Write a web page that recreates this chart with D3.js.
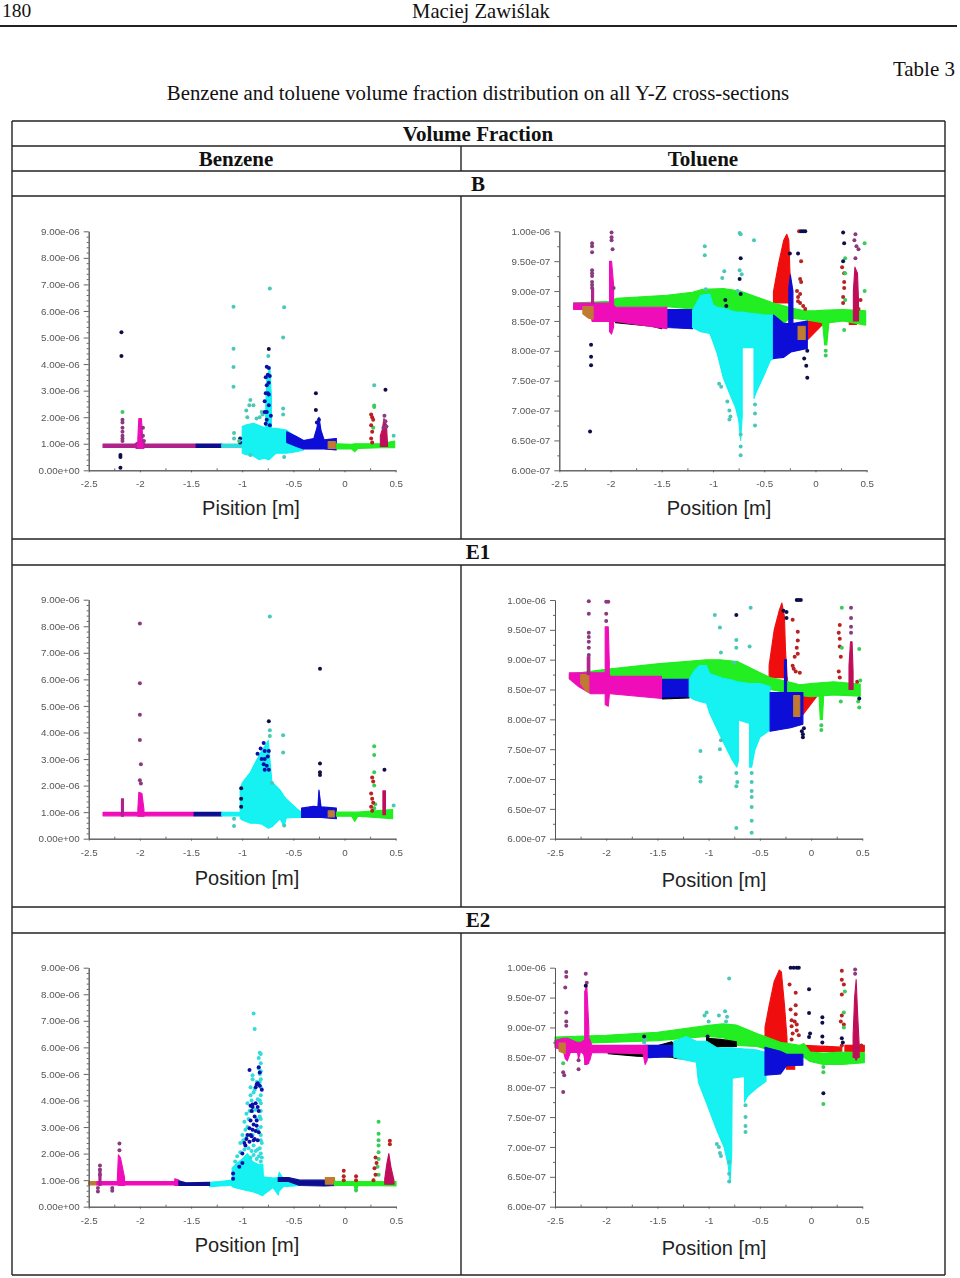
<!DOCTYPE html>
<html><head><meta charset="utf-8">
<script src="https://cdnjs.cloudflare.com/ajax/libs/d3/7.8.5/d3.min.js"></script>
<style>html,body{margin:0;padding:0;background:#fff}svg{display:block}</style></head><body>
<svg id="c" width="960" height="1278"></svg>
<script>
// ---------- axis values (benzene in 1e-6, toluene in 1e-7) ----------
const xTicks=[-2.5,-2,-1.5,-1,-0.5,0,0.5];
const xMinor=[-2.25,-1.75,-1.25,-0.75,-0.25,0.25];
const benzeneTicks=[0,1,2,3,4,5,6,7,8,9];
const benzeneLabels=["0.00e+00","1.00e-06","2.00e-06","3.00e-06","4.00e-06","5.00e-06","6.00e-06","7.00e-06","8.00e-06","9.00e-06"];
const benzeneMinor=[0.2,0.4,0.6,0.8,1.2,1.4,1.6,1.8,2.2,2.4,2.6,2.8,3.2,3.4,3.6,3.8,4.2,4.4,4.6,4.8,5.2,5.4,5.6,5.8,6.2,6.4,6.6,6.8,7.2,7.4,7.6,7.8,8.2,8.4,8.6,8.8];
const tolueneTicks=[6,6.5,7,7.5,8,8.5,9,9.5,10];
const tolueneLabels=["6.00e-07","6.50e-07","7.00e-07","7.50e-07","8.00e-07","8.50e-07","9.00e-07","9.50e-07","1.00e-06"];
const tolueneMinor=[6.25,6.75,7.25,7.75,8.25,8.75,9.25,9.75];

// ---------- B, benzene: regions are [x, low, high] ----------
const bBenMagenta=[[-2.36,0.86,0.99],[-2.05,0.86,0.99],[-2.03,0.82,1.05],[-1.97,0.82,1.05],[-1.95,0.86,0.99],[-1.45,0.86,0.99]];
const bBenPink=[[-2.02,0.85,1.2],[-2.01,0.82,1.95],[-1.985,0.82,1.95],[-1.97,0.85,1.1]];
const bBenNavy=[[-1.45,0.86,0.99],[-1.2,0.86,0.99]];
const bBenThinCyan=[[-1.2,0.86,0.99],[-1.0,0.86,0.99]];
const bBenCyan=[[-1.0,0.64,1.65],[-0.97,0.6,1.7],[-0.89,0.54,1.77],[-0.84,0.41,1.7],[-0.78,0.45,1.6],[-0.74,0.39,1.58],[-0.67,0.64,1.58],[-0.57,0.64,1.52],[-0.47,0.7,1.25],[-0.4,0.77,1.0]];
const bBenCyanSpike=[[-0.77,1.5,2.4],[-0.76,1.5,3.4],[-0.73,1.5,3.9],[-0.715,1.5,2.8]];
const bBenBlue=[[-0.565,1.05,1.45],[-0.47,0.9,1.27],[-0.4,0.8,1.12],[-0.3,0.8,1.2],[-0.27,0.8,1.6],[-0.25,0.8,2.0],[-0.23,0.8,1.5],[-0.2,0.8,1.15],[-0.08,0.77,1.2]];
const bBenGreen=[[-0.08,0.8,1.0],[0.07,0.8,0.98],[0.1,0.7,1.0],[0.13,0.82,1.0],[0.35,0.85,1.0],[0.49,0.85,1.1]];
const bBenBrown=[[-0.16,0.82,1.08],[-0.09,0.82,1.08]];
const bBenCrimson=[[0.35,0.9,1.3],[0.37,0.9,1.55],[0.385,0.9,1.95],[0.41,0.9,1.7],[0.42,0.9,1.0]];
const bBenTeal=[[-1.085,6.16],[-1.085,4.58],[-1.085,3.89],[-1.085,3.15],[-0.73,6.85],[-0.59,6.14],[-0.6,5.0],[-0.745,4.3],[-0.92,2.65],[-0.93,2.45],[-0.96,2.25],[-0.89,2.45],[-0.95,2.0],[-0.6,2.33],[-0.6,2.1],[0.29,3.2],[0.48,1.3],[-1.08,1.4],[-1.08,1.2],[-0.92,0.58],[-0.59,0.5],[-0.83,2.0],[-0.81,2.2],[-0.8,2.1],[-0.86,1.95]];
const bBenDark=[[-2.18,5.2],[-2.18,4.3],[-2.19,0.1],[-2.19,0.58],[-2.19,0.5],[-0.74,4.57],[-0.28,2.9],[-0.28,2.27],[0.4,3.03]];
const bBenGreenDots=[[-2.17,2.2],[0.29,2.44],[0.29,2.38],[-1.03,1.1],[0.28,1.6]];
const bBenRedDots=[[0.26,2.1],[0.27,2.0],[0.26,1.7],[0.27,1.45],[0.26,1.2],[0.27,1.05],[0.28,1.9]];
const bBenSpikeDots=[[-2.17,1.9],[-2.17,1.8],[-2.17,1.6],[-2.17,1.45],[-2.17,1.3],[-2.17,1.2],[-2.17,1.1],[-1.97,1.6],[-1.97,1.3],[-1.96,1.1],[0.39,2.05],[0.4,1.85],[0.41,1.65],[0.38,1.6]];
const bBenNavyDots=[[-0.78,2.6],[-0.75,2.9],[-0.76,3.2],[-0.73,3.55],[-0.77,3.5],[-0.74,3.85],[-0.74,2.45],[-0.77,1.75],[-0.73,1.7],[-1.02,1.2],[-1.02,1.05],[-0.25,1.9],[-0.27,1.8],[-0.76,3.9],[-0.75,3.6],[-0.74,3.3],[-0.77,2.9],[-0.74,2.85],[-0.76,2.2],[-0.72,2.05],[-0.78,2.2],[-0.76,1.9]];

// ---------- B, toluene ----------
const bTolGreen=[[-2.36,8.72,8.8],[-2.0,8.72,8.83],[-1.94,8.74,8.88],[-1.45,8.74,8.93],[-1.2,8.7,8.98],[-1.1,8.7,9.03],[-0.9,8.62,9.04],[-0.735,8.6,9.0],[-0.41,8.5,8.8],[-0.3,8.47,8.75],[-0.25,8.55,8.72],[-0.1,8.52,8.67],[0,8.49,8.67],[0.1,8.46,8.68],[0.27,8.5,8.69],[0.49,8.43,8.67]];
const bTolBlack=[[-1.95,8.47,8.52],[-1.6,8.41,8.5],[-1.5,8.37,8.5]];
const bTolBlue=[[-1.45,8.39,8.69],[-1.2,8.37,8.69]];
const bTolMagenta=[[-2.36,8.69,8.8],[-2.2,8.69,8.8],[-2.18,8.49,8.8],[-2.0,8.49,8.8],[-1.95,8.49,8.73],[-1.45,8.37,8.73]];
const bTolBrownLeft=[[-2.27,8.62,8.74],[-2.22,8.55,8.74],[-2.17,8.53,8.74]];
const bTolCyan=[[-1.2,8.39,8.68],[-1.12,8.32,8.93],[-1.03,8.29,8.95],[-1.0,8.15,8.77],[-0.96,7.96,8.73],[-0.9,7.55,8.71],[-0.83,7.25,8.68],[-0.78,7.05,8.65],[-0.75,6.85,8.65],[-0.73,6.5,8.65],[-0.715,6.9,8.65],[-0.715,8.05,8.65],[-0.6,8.05,8.62],[-0.6,7.2,8.62],[-0.58,7.3,8.62],[-0.5,7.6,8.6],[-0.44,7.84,8.6],[-0.4,7.87,8.6]];
const bTolBlueRight=[[-0.41,7.87,8.6],[-0.31,7.89,8.46],[-0.24,7.98,8.45],[-0.08,8.04,8.5]];
const bTolBlueSpike=[[-0.26,8.45,9.05],[-0.245,8.45,9.27],[-0.22,8.45,9.0]];
const bTolRed=[[-0.41,8.8,8.99],[-0.36,8.8,9.46],[-0.31,8.8,9.85],[-0.28,8.8,9.95],[-0.26,8.8,9.85],[-0.25,8.8,9.35],[-0.23,8.8,8.8]];
const bTolRedLow=[[-0.08,8.18,8.49],[0.08,8.46,8.49]];
const bTolRedStrip=[[0.33,8.44,8.55],[0.4,8.44,8.55]];
const bTolBrown=[[-0.17,8.19,8.41],[-0.1,8.19,8.41]];
const bTolGreenSpike=[[0.07,8.45,8.5],[0.09,8.1,8.5],[0.11,8.1,8.5],[0.13,8.45,8.5]];
const bTolPinkSpike=[[-2.01,8.32,9.5],[-1.99,8.28,9.5],[-1.97,8.4,9.1]];
const bTolLeftSpike=[[-2.185,8.8,9.05],[-2.165,8.8,9.05]];
const bTolCrimson=[[0.37,8.5,9.0],[0.385,8.5,9.4],[0.41,8.5,9.3],[0.42,8.5,8.85]];
const bTolPurple=[[-2.18,9.8],[-2.18,9.75],[-2.18,9.65],[-2.18,9.35],[-2.18,9.3],[-2.18,9.25],[-2.18,9.15],[-2.18,9.1],[-2.18,9.05],[-1.99,9.98],[-1.99,9.9],[-1.99,9.85],[-1.98,9.7],[-1.97,9.05],[0.39,9.95],[0.38,9.85],[0.4,9.75],[0.42,9.7],[0.39,9.55]];
const bTolDark=[[-2.19,8.1],[-2.19,7.9],[-2.19,7.76],[-2.2,6.65],[-0.73,9.55],[-0.74,9.2],[-0.73,8.95],[-0.08,8.0],[-0.09,7.75],[-0.08,7.55],[-0.11,7.87],[-0.25,9.63],[-0.17,9.63],[0.27,9.98],[0.28,9.8],[0.27,9.5],[-0.12,10],[-0.1,10],[-0.14,10],[-0.88,8.85],[-0.87,8.75]];
const bTolTeal=[[-1.08,9.75],[-1.08,9.6],[-0.74,9.97],[-0.73,9.95],[-0.6,9.85],[-0.89,9.33],[-0.91,9.22],[-0.74,9.35],[-0.72,9.28],[-0.76,9.0],[-0.94,7.45],[-0.92,7.4],[-0.86,7.15],[-0.84,7.0],[-0.84,6.85],[-0.83,6.9],[-0.59,6.95],[-0.59,7.1],[-0.59,6.75],[-0.73,6.25],[-1.07,9.03],[-0.73,6.4],[-0.73,6.6]];
const bTolRedDots=[[-0.14,9.5],[-0.15,9.2],[-0.14,9.15],[-0.18,9.0],[-0.15,8.95],[-0.17,8.9],[-0.15,8.8],[-0.12,8.75],[-0.17,8.83],[-0.1,8.7],[-0.16,10],[0.26,9.4],[0.28,9.3],[0.28,9.15],[0.28,9.05],[0.27,8.9],[0.27,8.8],[0.44,8.85],[0.42,8.7]];
const bTolGreenDots=[[0.1,8.0],[0.1,7.92],[0.28,8.35],[0.29,9.55],[0.29,9.3],[0.48,9.8],[0.48,9.0],[0.29,8.85]];

// ---------- E1, benzene ----------
const e1BenMagenta=[[-2.36,0.86,0.99],[-1.47,0.86,0.99]];
const e1BenPink=[[-2.02,0.85,1.1],[-2.01,0.85,1.75],[-1.98,0.85,1.7],[-1.96,0.85,1.1]];
const e1BenLeftSpike=[[-2.18,0.85,1.5],[-2.16,0.85,1.5]];
const e1BenNavy=[[-1.47,0.86,0.99],[-1.2,0.86,0.99]];
const e1BenCyan=[[-1.2,0.86,0.99],[-1.02,0.86,0.99],[-1.02,0.77,1.85],[-1.0,0.7,2.1],[-0.92,0.58,2.5],[-0.86,0.58,2.95],[-0.81,0.55,3.3],[-0.745,0.39,3.7],[-0.71,0.45,2.15],[-0.63,0.75,1.83],[-0.59,0.45,1.6],[-0.57,0.78,1.5],[-0.47,0.8,1.14],[-0.4,0.8,0.93]];
const e1BenBlue=[[-0.42,0.8,1.15],[-0.3,0.8,1.22],[-0.26,0.8,1.2],[-0.25,0.8,1.83],[-0.23,0.8,1.2],[-0.08,0.75,1.15]];
const e1BenGreen=[[-0.08,0.85,1.0],[0.07,0.85,1.0],[0.1,0.65,1.0],[0.13,0.85,1.0],[0.47,0.75,1.1]];
const e1BenBrown=[[-0.16,0.82,1.05],[-0.1,0.82,1.05]];
const e1BenCrimson=[[0.375,0.9,1.8],[0.4,0.9,1.8]];
const e1BenTeal=[[-0.73,8.37],[-0.73,4.08],[-0.73,3.87],[-0.6,3.9],[-0.6,3.25],[-1.08,0.48],[-1.08,0.75],[-0.59,0.5],[0.48,1.25],[-0.71,2.1]];
const e1BenPurple=[[-2.0,8.1],[-2.0,5.85],[-2.0,4.67],[-2.0,3.72],[-1.99,2.8],[-2.0,2.2],[-1.99,2.08]];
const e1BenDark=[[-0.24,6.4],[-0.74,4.42],[-0.24,2.83],[0.39,2.6],[-0.24,2.5],[-0.24,2.4],[-1.01,1.9],[-1.01,1.5],[-1.01,1.2]];
const e1BenNavyDots=[[-0.82,3.4],[-0.79,3.6],[-0.78,3.3],[-0.74,3.3],[-0.81,3.0],[-0.78,3.0],[-0.75,3.1],[-0.79,2.8],[-0.76,2.75],[-0.78,2.6],[-0.74,2.6],[-0.85,3.2]];
const e1BenGreenDots=[[0.29,3.48],[0.29,3.15],[0.29,2.5],[0.29,2.0],[0.3,1.3],[0.29,1.15]];
const e1BenRedDots=[[0.27,2.3],[0.28,2.15],[0.26,1.7],[0.27,1.5],[0.28,1.35],[0.26,1.2],[0.27,1.05]];

// ---------- E1, toluene ----------
const e1TolGreen=[[-2.36,8.68,8.76],[-2.0,8.7,8.84],[-1.5,8.68,8.93],[-1.02,8.67,9.0],[-0.89,8.62,9.0],[-0.72,8.6,8.97],[-0.4,8.5,8.7],[-0.27,8.46,8.65],[-0.11,8.4,8.58],[0,8.38,8.6],[0.22,8.41,8.63],[0.48,8.39,8.59]];
const e1TolBlack=[[-1.98,8.46,8.51],[-1.6,8.42,8.5],[-1.47,8.38,8.5],[-1.45,8.34,8.5],[-1.19,8.36,8.5]];
const e1TolBlue=[[-1.45,8.37,8.67],[-1.19,8.38,8.67]];
const e1TolMagenta=[[-2.36,8.68,8.78],[-2.27,8.55,8.78],[-2.15,8.43,8.78],[-1.98,8.43,8.78],[-1.96,8.43,8.72],[-1.46,8.35,8.72]];
const e1TolBrownLeft=[[-2.25,8.6,8.75],[-2.2,8.48,8.75],[-2.17,8.45,8.75]];
const e1TolCyan=[[-1.19,8.38,8.67],[-1.14,8.33,8.82],[-1.09,8.3,8.9],[-1.02,8.27,8.9],[-0.99,8.1,8.77],[-0.86,7.63,8.69],[-0.77,7.32,8.66],[-0.725,7.2,8.63],[-0.71,7.3,8.63],[-0.71,7.99,8.63],[-0.6,7.93,8.6],[-0.6,7.2,8.6],[-0.58,7.2,8.6],[-0.55,7.48,8.6],[-0.5,7.7,8.6],[-0.4,7.82,8.55]];
const e1TolBlueRight=[[-0.4,7.8,8.45],[-0.2,7.86,8.45],[-0.08,7.92,8.45]];
const e1TolBlueSpike=[[-0.26,8.4,9.0],[-0.24,8.4,9.0]];
const e1TolRed=[[-0.41,8.7,8.9],[-0.36,8.7,9.5],[-0.31,8.7,9.83],[-0.285,8.7,9.95],[-0.26,8.7,9.72],[-0.25,8.7,9.16],[-0.23,8.7,8.6]];
const e1TolRedLow=[[-0.08,8.08,8.4],[0.05,8.37,8.4]];
const e1TolRedStrip=[[0.33,8.42,8.5],[0.38,8.42,8.5]];
const e1TolBrown=[[-0.17,8.05,8.4],[-0.11,8.05,8.4]];
const e1TolGreenSpike=[[0.08,8.3,8.4],[0.09,8.0,8.4],[0.11,8.0,8.4],[0.12,8.3,8.4]];
const e1TolPinkSpike=[[-2.01,8.25,9.55],[-1.98,8.22,9.55],[-1.97,8.4,8.95]];
const e1TolLeftSpike=[[-2.185,8.75,9.05],[-2.16,8.75,9.05]];
const e1TolCrimson=[[0.37,8.5,8.9],[0.385,8.5,9.3],[0.4,8.5,9.3],[0.41,8.5,8.8]];
const e1TolPurple=[[-2.17,9.98],[-2.17,9.77],[-2.17,9.45],[-2.17,9.38],[-2.17,9.3],[-2.17,9.2],[-2.17,9.08],[-2.0,9.97],[-1.98,9.97],[-2.0,9.77],[-2.0,9.65],[0.39,9.87],[0.39,9.7],[0.39,9.55],[0.39,9.45]];
const e1TolDark=[[-0.73,9.75],[-0.27,9.82],[-0.24,9.8],[-0.24,9.7],[-0.07,7.85],[-0.08,7.75],[-0.09,7.8],[-0.08,7.7],[-0.12,10],[-0.1,10],[-0.14,10],[0.47,8.35]];
const e1TolTeal=[[-0.94,9.75],[-0.89,9.54],[-0.88,9.12],[-0.73,9.33],[-0.73,9.2],[-0.59,9.87],[-0.6,9.22],[-0.75,8.95],[-0.88,7.65],[-0.89,7.5],[-1.08,7.47],[-1.08,7.03],[-1.08,6.96],[-0.73,7.1],[-0.72,6.95],[-0.73,6.88],[-0.58,7.1],[-0.58,6.95],[-0.58,6.8],[-0.58,6.7],[-0.58,6.53],[-0.58,6.3],[-0.58,6.1],[-0.73,6.18]];
const e1TolRedDots=[[-0.18,9.67],[-0.13,9.47],[-0.13,9.32],[-0.14,9.2],[-0.13,9.1],[-0.16,9.05],[-0.17,8.85],[-0.15,8.8],[-0.11,8.78],[-0.18,8.9],[0.28,9.58],[0.27,9.45],[0.28,9.35],[0.28,9.22],[0.29,9.05],[0.27,8.8],[0.28,8.7],[0.45,8.63]];
const e1TolGreenDots=[[0.1,7.9],[0.1,7.82],[0.3,9.87],[0.3,9.2],[0.29,8.3],[0.47,9.18],[0.48,8.65],[0.47,8.2],[0.46,8.3]];

// ---------- E2, benzene ----------
const e2BenBrown=[[-2.5,0.82,0.95],[-2.42,0.82,0.95]];
const e2BenMagenta=[[-2.42,0.82,0.95],[-1.64,0.82,0.95]];
const e2BenPink=[[-2.22,0.85,1.1],[-2.21,0.8,1.95],[-2.19,0.8,1.85],[-2.15,0.8,1.1]];
const e2BenLeftSpike=[[-2.4,0.8,1.4],[-2.38,0.8,1.4]];
const e2BenMagentaEnd=[[-1.66,0.8,1.05],[-1.62,0.8,1.0]];
const e2BenNavy=[[-1.62,0.8,0.98],[-1.55,0.8,0.9],[-1.32,0.8,0.92]];
const e2BenThinCyan=[[-1.32,0.75,0.92],[-1.22,0.78,0.95],[-1.1,0.8,1.0]];
const e2BenCyan=[[-1.1,0.75,1.45],[-1.05,0.7,1.65],[-1.0,0.65,1.8],[-0.95,0.6,2.0],[-0.9,0.56,1.7],[-0.85,0.5,1.6],[-0.8,0.41,1.6],[-0.795,0.45,1.13],[-0.7,0.72,1.08],[-0.65,0.44,1.1],[-0.64,0.6,1.3],[-0.6,0.75,1.05],[-0.44,0.8,0.95]];
const e2BenNavyRight=[[-0.65,0.95,1.1],[-0.55,0.95,1.1],[-0.44,0.8,1.0],[-0.2,0.78,1.0],[-0.08,0.8,0.95]];
const e2BenBrownRight=[[-0.19,0.85,1.1],[-0.1,0.85,1.1]];
const e2BenGreen=[[-0.1,0.8,0.95],[0.09,0.8,0.95],[0.11,0.55,0.95],[0.13,0.8,0.95],[0.5,0.78,0.95]];
const e2BenCrimson=[[0.39,0.85,1.05],[0.41,0.85,1.6],[0.43,0.85,2.0],[0.45,0.85,1.5],[0.48,0.85,1.0]];
const e2BenTeal=[[-0.89,7.28],[-0.88,6.69],[-0.83,5.8],[-0.82,5.75],[-0.84,5.6],[-0.82,5.4],[-0.84,5.2],[-0.83,5.0],[-0.9,4.95],[-0.9,4.8],[-0.82,4.8],[-0.84,4.6],[-0.82,4.5],[-0.92,4.5],[-0.88,4.4],[-0.82,4.2],[-0.92,4.2],[-0.85,4.05],[-0.82,3.9],[-0.95,3.9],[-0.82,3.6],[-0.9,3.6],[-0.96,3.5],[-0.82,3.3],[-0.86,3.3],[-0.98,3.2],[-0.82,3.0],[-0.95,3.0],[-0.85,2.9],[-1.0,2.7],[-0.82,2.7],[-0.9,2.7],[-1.02,2.4],[-0.81,2.4],[-0.82,5.1],[-0.83,4.7],[-0.86,4.7],[-0.89,4.3],[-0.91,4.0],[-0.83,4.0],[-0.87,3.65],[-0.93,3.6],[-0.83,3.4],[-0.94,3.3],[-0.97,2.9],[-0.99,2.5],[-0.96,2.6],[-0.82,2.5],[-0.83,2.2],[-0.85,2.15],[-0.87,2.1],[-0.89,2.3],[-0.91,2.1],[-0.94,2.2],[-0.98,2.15],[-1.02,2.05],[-1.05,1.9],[-0.82,2.0],[-0.81,1.85],[-0.84,1.9],[-0.86,1.8],[-0.89,1.95],[-0.92,1.85],[-0.82,1.7],[-1.07,1.7]];
const e2BenNavyDots=[[-0.93,5.15],[-0.84,5.25],[-0.83,5.05],[-0.85,4.65],[-0.83,4.55],[-0.87,4.5],[-0.81,4.4],[-0.9,3.85],[-0.87,3.9],[-0.85,3.75],[-0.84,3.6],[-0.91,3.6],[-0.88,3.4],[-0.92,3.25],[-0.89,3.1],[-0.86,3.05],[-0.93,2.95],[-0.87,2.85],[-0.84,2.8],[-0.95,2.7],[-0.91,2.65],[-0.88,2.55],[-0.85,2.5],[-0.93,2.45],[-0.97,2.3],[-1.0,2.0],[-1.0,1.65],[-1.03,1.5],[-1.09,1.25],[-1.09,1.05],[-0.86,4.6],[-0.9,3.75],[-0.92,3.8],[-0.86,3.25],[-0.9,2.9],[-0.92,2.7],[-0.89,2.5],[-0.96,2.55],[-0.98,2.4]];
const e2BenPurple=[[-2.2,2.38],[-2.2,2.13],[-2.41,0.57],[-2.41,0.7],[-2.27,0.6],[-2.27,0.7],[-2.39,1.55],[-2.39,1.4],[-2.39,1.2]];
const e2BenRedDots=[[-0.01,1.35],[-0.01,1.15],[-0.01,1.0],[0.11,1.15],[0.11,1.0],[0.3,1.85],[0.31,1.65],[0.29,1.45],[0.3,1.2],[0.28,1.0],[0.44,2.48],[0.44,2.35]];
const e2BenGreenDots=[[0.33,3.2],[0.33,2.75],[0.33,2.5],[0.33,2.3],[0.33,2.05],[0.33,1.8],[0.32,1.5],[0.33,1.2],[0.11,0.62]];

// ---------- E2, toluene ----------
const e2TolGreen=[[-2.5,8.72,8.84],[-2.0,8.75,8.87],[-1.5,8.78,8.92],[-1.02,8.85,9.03],[-0.86,8.83,9.06],[-0.73,8.7,9.04],[-0.53,8.68,8.9],[-0.3,8.58,8.75],[-0.11,8.52,8.7],[-0.07,8.5,8.73],[-0.01,8.43,8.59],[0.12,8.38,8.57],[0.3,8.38,8.59],[0.52,8.41,8.58]];
const e2TolBlackLow=[[-1.98,8.56,8.6],[-1.7,8.52,8.6],[-1.36,8.5,8.76],[-1.32,8.48,8.7],[-1.2,8.47,8.6]];
const e2TolBlackMid=[[-1.02,8.62,8.82],[-0.88,8.68,8.8],[-0.73,8.68,8.76]];
const e2TolBlue=[[-1.62,8.49,8.7],[-1.34,8.52,8.7]];
const e2TolMagenta=[[-2.5,8.66,8.78],[-2.42,8.62,8.82],[-2.4,8.48,8.82],[-2.38,8.44,8.82],[-2.35,8.58,8.8],[-2.28,8.58,8.75],[-2.27,8.47,8.75],[-2.25,8.6,8.75],[-2.22,8.55,8.78],[-2.2,8.38,8.8],[-2.16,8.45,8.8],[-2.14,8.58,8.7],[-1.64,8.56,8.7],[-1.62,8.38,8.7],[-1.6,8.45,8.7]];
const e2TolBrownLeft=[[-2.46,8.6,8.74],[-2.4,8.56,8.74]];
const e2TolCyan=[[-1.34,8.5,8.77],[-1.22,8.45,8.85],[-1.12,8.42,8.77],[-1.1,8.08,8.77],[-1.02,7.73,8.77],[-0.92,7.28,8.66],[-0.85,7.0,8.66],[-0.81,6.7,8.66],[-0.79,6.4,8.66],[-0.775,6.9,8.66],[-0.77,8.15,8.66],[-0.65,8.18,8.64],[-0.65,7.75,8.64],[-0.62,7.85,8.64],[-0.52,8.0,8.62],[-0.44,8.1,8.58]];
const e2TolBlueRight=[[-0.45,8.2,8.67],[-0.3,8.22,8.6],[-0.24,8.36,8.55],[-0.08,8.37,8.55]];
const e2TolRed=[[-0.45,8.75,9.0],[-0.41,8.75,9.36],[-0.36,8.75,9.77],[-0.31,8.75,9.96],[-0.29,8.75,9.93],[-0.26,8.75,9.38],[-0.235,8.75,8.82]];
const e2TolRedLow=[[-0.07,8.6,8.7],[0.3,8.6,8.67]];
const e2TolRedStrip=[[-0.24,8.3,8.4],[-0.16,8.3,8.4]];
const e2TolCrimsonLow=[[0.33,8.6,8.7],[0.52,8.6,8.7]];
const e2TolPinkSpike=[[-2.21,8.38,9.6],[-2.19,8.38,9.7],[-2.17,8.4,9.0]];
const e2TolCrimson=[[0.41,8.5,8.85],[0.425,8.5,9.5],[0.44,8.45,9.8],[0.455,8.5,9.2],[0.47,8.5,8.7]];
const e2TolPurple=[[-2.39,9.93],[-2.39,9.85],[-2.4,9.67],[-2.39,9.25],[-2.39,9.1],[-2.39,9.03],[-2.2,9.9],[-2.19,9.75],[-2.41,8.2],[-2.42,8.25],[-2.42,7.92],[-2.27,8.3],[-2.27,8.45],[0.43,9.97],[0.43,9.9]];
const e2TolDark=[[-2.2,9.7],[0.12,7.9],[-1.63,8.85],[-1.01,8.85],[-0.17,10],[-0.14,10],[-0.12,10],[-0.2,10],[-0.02,9.64],[-0.02,9.24],[-0.01,8.9],[-0.02,8.84],[0.11,9.17],[0.11,9.08],[0.11,8.85],[0.11,8.75],[0.3,8.82],[0.31,8.75]];
const e2TolTeal=[[-0.8,9.82],[-1.02,9.25],[-1.04,9.2],[-1.0,9.1],[-0.9,9.2],[-0.84,9.27],[-0.82,9.18],[-0.83,9.1],[-0.92,7.05],[-0.9,7.0],[-0.89,6.9],[-0.88,6.85],[-0.8,6.75],[-0.8,6.55],[-0.8,6.42],[-0.64,7.7],[-0.64,7.5],[-0.64,7.35],[-0.64,7.25],[-1.63,8.75],[-1.62,8.8]];
const e2TolRedDots=[[-0.21,9.72],[-0.15,9.58],[-0.15,9.37],[-0.2,9.3],[-0.15,9.22],[-0.19,9.12],[-0.16,9.1],[-0.14,9.05],[-0.19,9.02],[-0.14,8.95],[-0.18,8.9],[-0.12,8.87],[-0.19,8.8],[0.3,9.95],[0.3,9.8],[0.32,9.72],[0.3,9.55],[0.3,9.2],[0.29,9.1],[0.32,9.05],[0.3,8.7],[0.49,8.7]];
const e2TolGreenDots=[[0.12,8.34],[0.12,8.25],[0.12,7.72],[-2.42,8.4],[0.32,9.25],[0.32,9.0],[0.33,9.6]];

// ---------- colours ----------
const MAG="#ee10b8",PINK="#ff10c0",PLUM="#b0208c",NAVY="#0a0a90",BLUE="#0808d8",CYAN="#12f2f2",GREEN="#20ee20",RED="#f01010",BLK="#000000",BRN="#c07a30",CRIM="#c0105a",TEAL="#48c8b8",DPUR="#8a3a80",DARK="#10104a",REDD="#b82020",GRND="#38cc58",NAVD="#0c10a8",LCYAN="#30dcdc";

const panels=[
 {gx:[88.7,395.7],gy:[231.3,470.3],type:"ben",label:"Pisition [m]",lx:251,ly:515,
  areas:[[PLUM,bBenMagenta],[MAG,bBenPink],[NAVY,bBenNavy],[LCYAN,bBenThinCyan],[CYAN,bBenCyan],[CYAN,bBenCyanSpike],[BLUE,bBenBlue],[GREEN,bBenGreen],[BRN,bBenBrown],[CRIM,bBenCrimson]],
  dots:[[TEAL,bBenTeal],[DPUR,bBenSpikeDots],[NAVD,bBenNavyDots],[DARK,bBenDark],[GRND,bBenGreenDots],[REDD,bBenRedDots]]},
 {gx:[559.3,866.7],gy:[231.3,470.3],type:"tol",label:"Position [m]",lx:719,ly:515,
  areas:[[RED,bTolRed],[RED,bTolRedLow],[RED,bTolRedStrip],[GREEN,bTolGreen],[BLK,bTolBlack],[BLUE,bTolBlue],[MAG,bTolMagenta],[BRN,bTolBrownLeft],[CYAN,bTolCyan],[BLUE,bTolBlueRight],[BLUE,bTolBlueSpike],[BRN,bTolBrown],[GREEN,bTolGreenSpike],[MAG,bTolPinkSpike],[PLUM,bTolLeftSpike],[CRIM,bTolCrimson]],
  dots:[[TEAL,bTolTeal],[DPUR,bTolPurple],[REDD,bTolRedDots],[GRND,bTolGreenDots],[DARK,bTolDark]]},
 {gx:[88.7,395.7],gy:[599.7,838.7],type:"ben",label:"Position [m]",lx:247,ly:885,
  areas:[[MAG,e1BenMagenta],[MAG,e1BenPink],[PLUM,e1BenLeftSpike],[NAVY,e1BenNavy],[CYAN,e1BenCyan],[BLUE,e1BenBlue],[GREEN,e1BenGreen],[BRN,e1BenBrown],[CRIM,e1BenCrimson]],
  dots:[[TEAL,e1BenTeal],[DPUR,e1BenPurple],[NAVD,e1BenNavyDots],[DARK,e1BenDark],[GRND,e1BenGreenDots],[REDD,e1BenRedDots]]},
 {gx:[555,862.3],gy:[600,838.7],type:"tol",label:"Position [m]",lx:714,ly:887,
  areas:[[RED,e1TolRed],[RED,e1TolRedLow],[RED,e1TolRedStrip],[GREEN,e1TolGreen],[BLK,e1TolBlack],[BLUE,e1TolBlue],[MAG,e1TolMagenta],[BRN,e1TolBrownLeft],[CYAN,e1TolCyan],[BLUE,e1TolBlueRight],[BLUE,e1TolBlueSpike],[BRN,e1TolBrown],[GREEN,e1TolGreenSpike],[MAG,e1TolPinkSpike],[PLUM,e1TolLeftSpike],[CRIM,e1TolCrimson]],
  dots:[[TEAL,e1TolTeal],[DPUR,e1TolPurple],[REDD,e1TolRedDots],[GRND,e1TolGreenDots],[DARK,e1TolDark]]},
 {gx:[88.7,396],gy:[967.7,1206.7],type:"ben",label:"Position [m]",lx:247,ly:1252,
  areas:[[BRN,e2BenBrown],[MAG,e2BenMagenta],[MAG,e2BenPink],[MAG,e2BenMagentaEnd],[PLUM,e2BenLeftSpike],[CYAN,e2BenThinCyan],[NAVY,e2BenNavy],[CYAN,e2BenCyan],[NAVY,e2BenNavyRight],[BRN,e2BenBrownRight],[GREEN,e2BenGreen],[CRIM,e2BenCrimson]],
  dots:[[LCYAN,e2BenTeal],[NAVD,e2BenNavyDots],[DPUR,e2BenPurple],[GRND,e2BenGreenDots],[REDD,e2BenRedDots]]},
 {gx:[555,862.3],gy:[967.7,1206.7],type:"tol",label:"Position [m]",lx:714,ly:1255,
  areas:[[RED,e2TolRed],[RED,e2TolRedLow],[RED,e2TolRedStrip],[RED,e2TolCrimsonLow],[GREEN,e2TolGreen],[BLK,e2TolBlackLow],[BLK,e2TolBlackMid],[BLUE,e2TolBlue],[MAG,e2TolMagenta],[BRN,e2TolBrownLeft],[CYAN,e2TolCyan],[BLUE,e2TolBlueRight],[MAG,e2TolPinkSpike],[CRIM,e2TolCrimson]],
  dots:[[TEAL,e2TolTeal],[DPUR,e2TolPurple],[REDD,e2TolRedDots],[GRND,e2TolGreenDots],[DARK,e2TolDark]]}
];

const svg=d3.select("#c");
const defs=svg.append("defs");
defs.append("filter").attr("id","soft").append("feGaussianBlur").attr("stdDeviation",0.4);
const SERIF="'Liberation Serif','Times New Roman',serif";
const SANS="'Liberation Sans',Arial,sans-serif";

// page furniture
const txt=(t,x,y,size,anchor,weight)=>svg.append("text").text(t).attr("x",x).attr("y",y)
  .attr("font-family",SERIF).attr("font-size",size).attr("text-anchor",anchor||"middle")
  .attr("font-weight",weight||"normal").attr("fill","#111");
txt("180",2,17,19.5,"start");
txt("Maciej Zawiślak",481,18,20.6);
svg.append("line").attr("x1",0).attr("x2",957).attr("y1",26).attr("y2",26).attr("stroke","#222").attr("stroke-width",2);
txt("Table 3",955,76,21,"end");
txt("Benzene and toluene volume fraction distribution on all Y-Z cross-sections",478,100,20.8);

const hLines=[121,146,171,196,539,565,907,933,1275];
const vLines=[[121,1275,12],[121,1275,945],[146,171,461],[196,539,461],[565,907,461],[933,1275,461]];
hLines.forEach(y=>svg.append("line").attr("x1",12).attr("x2",945).attr("y1",y).attr("y2",y).attr("stroke","#222").attr("stroke-width",1.4));
vLines.forEach(v=>svg.append("line").attr("x1",v[2]).attr("x2",v[2]).attr("y1",v[0]).attr("y2",v[1]).attr("stroke","#222").attr("stroke-width",1.4));
txt("Volume Fraction",478,141,21,"middle","bold");
txt("Benzene",236,166,21,"middle","bold");
txt("Toluene",703,166,21,"middle","bold");
txt("B",478,191,21,"middle","bold");
txt("E1",478,559,21,"middle","bold");
txt("E2",478,927,21,"middle","bold");

// panels
panels.forEach(p=>{
  const ben=p.type==="ben";
  const x=d3.scaleLinear().domain([-2.5,0.5]).range(p.gx);
  const y=d3.scaleLinear().domain(ben?[0,9]:[6,10]).range([p.gy[1],p.gy[0]]);
  const g=svg.append("g");
  const marks=g.append("g").attr("filter","url(#soft)");
  const area=d3.area().x(d=>x(d[0])).y0(d=>y(d[1])).y1(d=>y(d[2]));
  marks.selectAll("path.r").data(p.areas).join("path").attr("class","r")
    .attr("fill",d=>d[0]).attr("stroke",d=>d[0]).attr("stroke-width",1.1).attr("stroke-linejoin","round").attr("d",d=>area(d[1]));
  p.dots.forEach(([c,arr])=>{
    marks.selectAll(null).data(arr).join("circle")
      .attr("cx",d=>x(d[0])).attr("cy",d=>y(d[1])).attr("r",2).attr("fill",c);
  });
  const labels=ben?benzeneLabels:tolueneLabels, tv=ben?benzeneTicks:tolueneTicks, mv=ben?benzeneMinor:tolueneMinor;
  const axes=g.append("g").attr("filter","url(#soft)");
  axes.append("g").attr("transform",`translate(${p.gx[0]},0)`)
    .call(d3.axisLeft(y).tickValues(tv).tickFormat((d,i)=>labels[i]).tickSize(5).tickPadding(4).tickSizeOuter(0));
  axes.append("g").attr("transform",`translate(${p.gx[0]},0)`)
    .call(d3.axisLeft(y).tickValues(mv).tickFormat("").tickSize(2).tickSizeOuter(0));
  axes.append("g").attr("transform",`translate(0,${p.gy[1]})`)
    .call(d3.axisBottom(x).tickValues(xTicks).tickFormat(d=>String(d)).tickSize(2).tickPadding(8).tickSizeOuter(0));
  axes.append("g").attr("transform",`translate(0,${p.gy[1]})`)
    .call(d3.axisTop(x).tickValues(xMinor).tickFormat("").tickSize(2).tickSizeOuter(0));
  axes.selectAll("path,line").attr("stroke","#555").attr("stroke-width",0.9);
  axes.selectAll("text").attr("font-family",SANS).attr("font-size",9.8).attr("fill","#555");
  g.append("text").text(p.label).attr("x",p.lx).attr("y",p.ly).attr("text-anchor","middle")
    .attr("font-family",SANS).attr("font-size",20).attr("fill","#222");
});
</script></body></html>
